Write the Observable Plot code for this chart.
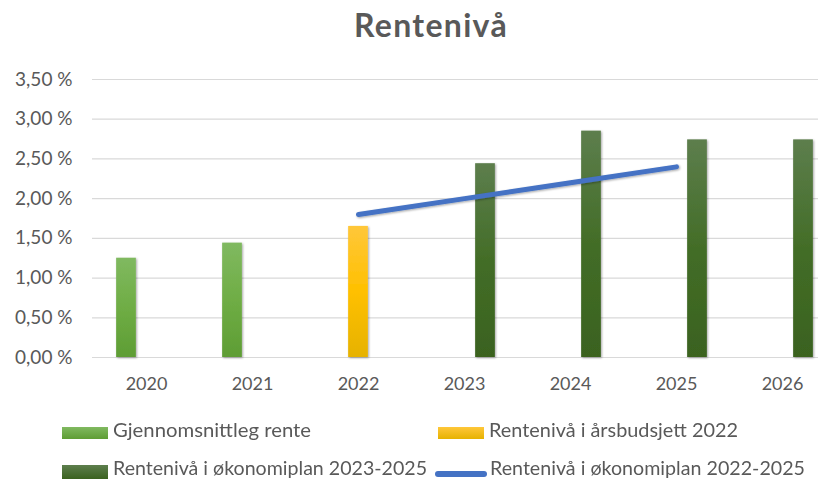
<!DOCTYPE html>
<html><head><meta charset="utf-8">
<script src="https://cdn.jsdelivr.net/npm/d3@7"></script>
<script src="https://cdn.jsdelivr.net/npm/@observablehq/plot@0.6"></script>
<style>
html,body{margin:0;padding:0;background:#fff;overflow:hidden;width:818px;height:479px;}
#wrap{position:relative;width:818px;height:479px;font-family:Lato,sans-serif;color:#595959;overflow:hidden;}
#title{position:absolute;left:0;top:5px;width:862px;text-align:center;font-weight:bold;font-size:32px;letter-spacing:1.3px;line-height:40px;}
#chart{position:absolute;left:0;top:50px;}
.lg{position:absolute;font-size:20px;white-space:nowrap;line-height:20px;transform-origin:0 50%;}
.sw{position:absolute;}
</style></head><body>
<div id="wrap"><div id="title">Rentenivå</div><div id="chart"></div><div id="legend"></div></div>
<script>
// ---- data ----
const years = ["2020", "2021", "2022", "2023", "2024", "2025", "2026"];
const yTicks = [0, 0.5, 1, 1.5, 2, 2.5, 3, 3.5];

const seriesNames = [
  "Gjennomsnittleg rente",
  "Rentenivå i årsbudsjett 2022",
  "Rentenivå i økonomiplan 2023-2025",
  "Rentenivå i økonomiplan 2022-2025"
];

const snittYears = ["2020", "2021"];
const snittValues = [1.25, 1.44];

const budsjettYears = ["2022"];
const budsjettValues = [1.65];

const okplanYears = ["2023", "2024", "2025", "2026"];
const okplanValues = [2.44, 2.85, 2.74, 2.74];

const lineYears = ["2022", "2023", "2024", "2025"];
const lineValues = [1.80, 2.00, 2.20, 2.40];

// ---- build tables ----
const toRows = (ys, vs) => ys.map((year, i) => ({year, value: vs[i]}));
const snitt = toRows(snittYears, snittValues);
const budsjett = toRows(budsjettYears, budsjettValues);
const okplan = toRows(okplanYears, okplanValues);
const plan = toRows(lineYears, lineValues);

const fmt = d => d.toFixed(2).replace(".", ",") + " %";

// layout of clustered bars
const xRange = [92, 836];
const bandW = (xRange[1] - xRange[0]) / years.length;
const barW = 20;
const insets = off => ({insetLeft: bandW / 2 + off - barW / 2, insetRight: bandW / 2 - off - barW / 2});

const chart = Plot.plot({
  width: 818,
  height: 352,
  marginTop: 29,
  marginBottom: 45,
  marginLeft: 92,
  marginRight: 0,
  style: {fontFamily: "Lato, sans-serif", fontSize: "18px", color: "#595959", background: "transparent", overflow: "visible"},
  x: {type: "band", domain: years, range: xRange, padding: 0, tickSize: 0, tickPadding: 20, label: null},
  y: {domain: [0, 3.5], ticks: yTicks, tickSize: 0, tickPadding: 20, tickFormat: fmt, label: null},
  marks: [
    Plot.ruleY(yTicks, {stroke: "#d9d9d9", strokeWidth: 1.2}),
    Plot.barY(snitt, {x: "year", y: "value", fill: "url(#gSnitt)", ...insets(-20)}),
    Plot.barY(budsjett, {x: "year", y: "value", fill: "url(#gBud)", ...insets(0)}),
    Plot.barY(okplan, {x: "year", y: "value", fill: "url(#gPlan)", ...insets(21)}),
    Plot.line(plan, {x: "year", y: "value", stroke: "#4472c4", strokeWidth: 5, strokeLinecap: "round"})
  ]
});

// gradients & shadows
const ns = "http://www.w3.org/2000/svg";
const defs = document.createElementNS(ns, "defs");
defs.innerHTML = `
  <linearGradient id="gSnitt" x1="0" y1="0" x2="0" y2="1">
    <stop offset="0" stop-color="#80b960"/><stop offset="0.5" stop-color="#6fad45"/><stop offset="1" stop-color="#5e9d34"/>
  </linearGradient>
  <linearGradient id="gBud" x1="0" y1="0" x2="0" y2="1">
    <stop offset="0" stop-color="#ffc73a"/><stop offset="0.5" stop-color="#ffc000"/><stop offset="1" stop-color="#e6b200"/>
  </linearGradient>
  <linearGradient id="gPlan" x1="0" y1="0" x2="0" y2="1">
    <stop offset="0" stop-color="#5d7e4d"/><stop offset="0.5" stop-color="#436d27"/><stop offset="1" stop-color="#3a621f"/>
  </linearGradient>
  <filter id="shadow" x="-30%" y="-30%" width="160%" height="160%">
    <feDropShadow dx="1" dy="1" stdDeviation="1.2" flood-color="#000" flood-opacity="0.35"/>
  </filter>`;
chart.insertBefore(defs, chart.firstChild);
chart.querySelectorAll('g[aria-label="bar"], g[aria-label="line"]').forEach(g => g.setAttribute("filter", "url(#shadow)"));
chart.querySelectorAll('g[aria-label^="y-axis"] text').forEach(t => t.style.fontSize = "19px");
document.getElementById("chart").appendChild(chart);

// legend
const legend = document.getElementById("legend");
const items = [
  {name: seriesNames[0], sw: {left: 62, top: 427, width: 46, height: 12, background: "linear-gradient(#80b960,#5e9d34)"}, text: {left: 113, top: 419}, w: 198},
  {name: seriesNames[1], sw: {left: 438, top: 427, width: 46, height: 12, background: "linear-gradient(#ffc73a,#e6b200)"}, text: {left: 489, top: 419}, w: 249},
  {name: seriesNames[2], sw: {left: 62, top: 465, width: 46, height: 14, background: "linear-gradient(#5d7e4d,#3a621f)"}, text: {left: 113, top: 457}, w: 314},
  {name: seriesNames[3], sw: {left: 435, top: 471, width: 52, height: 6, background: "#4472c4", borderRadius: "3px"}, text: {left: 490, top: 457}, w: 315}
];
items.forEach(it => {
  const s = document.createElement("div");
  s.className = "sw";
  Object.entries(it.sw).forEach(([k, v]) => s.style[k] = typeof v === "number" ? v + "px" : v);
  legend.appendChild(s);
  const t = document.createElement("div");
  t.className = "lg";
  t.textContent = it.name;
  t.style.left = it.text.left + "px";
  t.style.top = it.text.top + "px";
  legend.appendChild(t);
  const w = t.getBoundingClientRect().width;
  t.style.transform = `scaleX(${it.w / w})`;
});
</script>
</body></html>
